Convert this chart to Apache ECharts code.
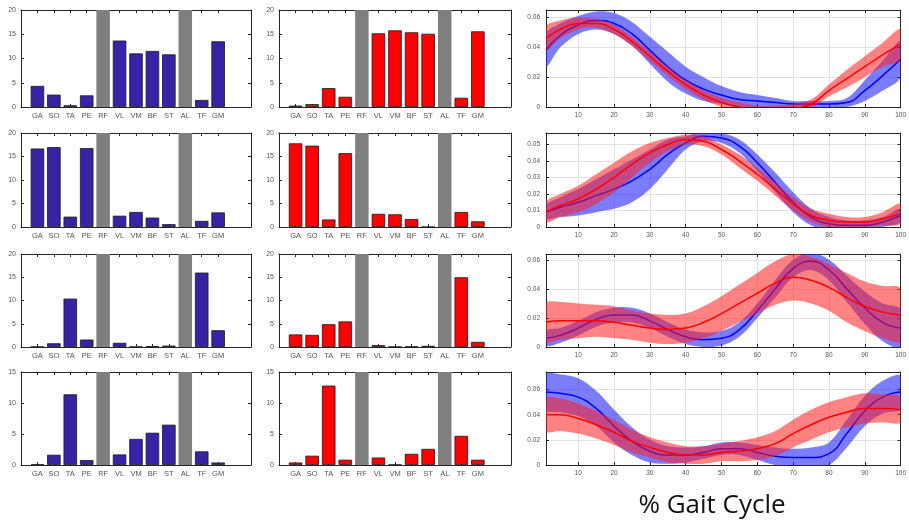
<!DOCTYPE html>
<html><head><meta charset="utf-8">
<script src="https://cdn.jsdelivr.net/npm/echarts@6/dist/echarts.min.js"></script>
<style>html,body{margin:0;padding:0;background:#fff}#c{width:909px;height:521px}</style>
</head><body><div id="c"></div>
<script>
// ---------- DATA ----------
const muscles = ['GA','SO','TA','PE','RF','VL','VM','BF','ST','AL','TF','GM'];
const missingMuscles = ['RF','AL'];

// bar heights (left = blue group, right = red group), one array per row
const blueBars1 = [4.35,2.55,0.35,2.4,null,13.7,11.05,11.55,10.85,null,1.45,13.55];
const redBars1  = [0.28,0.6,3.9,2.1,null,15.2,15.8,15.4,15.1,null,1.9,15.6];
const blueBars2 = [16.7,17.0,2.2,16.8,null,2.4,3.2,2.0,0.6,null,1.3,3.1];
const redBars2  = [17.8,17.3,1.6,15.7,null,2.8,2.7,1.7,0,null,3.2,1.2];
const blueBars3 = [0.05,0.8,10.4,1.6,null,0.9,0.05,0.15,0.3,null,16.0,3.6];
const redBars3  = [2.7,2.6,4.9,5.5,null,0.4,0.05,0.1,0.25,null,15.0,1.1];
const blueBars4 = [0.1,1.65,11.4,0.8,null,1.7,4.2,5.2,6.5,null,2.2,0.4];
const redBars4  = [0.4,1.5,12.8,0.85,null,1.2,0.05,1.8,2.6,null,4.7,0.85];
const barMax = [20,20,20,15];

// % gait cycle sample positions
const gait = [1,5,10,15,20,25,30,35,40,45,50,55,60,65,70,75,80,85,90,95,100];
const gaitTicks = [10,20,30,40,50,60,70,80,90,100];

const blueMean1 = [0.038,0.048,0.055,0.058,0.056,0.049,0.038,0.027,0.018,0.012,0.008,0.005,0.004,0.003,0.002,0.002,0.002,0.003,0.011,0.021,0.032];
const blueSd1   = [0.011,0.008,0.006,0.006,0.007,0.008,0.009,0.010,0.009,0.008,0.006,0.005,0.004,0.003,0.002,0.002,0.002,0.003,0.007,0.010,0.012];
const redMean1  = [0.046,0.052,0.056,0.056,0.052,0.044,0.034,0.024,0.015,0.008,0.003,0.000,-0.002,-0.002,-0.001,0.002,0.011,0.019,0.027,0.035,0.042];
const redSd1    = [0.008,0.006,0.004,0.003,0.003,0.003,0.003,0.003,0.003,0.003,0.003,0.003,0.003,0.003,0.003,0.003,0.004,0.006,0.007,0.008,0.010];

const blueMean2 = [0.009,0.012,0.015,0.019,0.023,0.028,0.035,0.044,0.051,0.055,0.054,0.049,0.039,0.027,0.015,0.006,0.002,0.001,0.001,0.003,0.007];
const blueSd2   = [0.004,0.006,0.008,0.010,0.012,0.013,0.012,0.009,0.004,0.003,0.003,0.004,0.005,0.006,0.006,0.005,0.004,0.003,0.003,0.003,0.004];
const redMean2  = [0.009,0.013,0.017,0.023,0.030,0.038,0.045,0.050,0.053,0.052,0.047,0.040,0.032,0.023,0.014,0.007,0.004,0.003,0.003,0.005,0.008];
const redSd2    = [0.006,0.007,0.008,0.009,0.009,0.008,0.006,0.004,0.003,0.003,0.003,0.004,0.004,0.004,0.004,0.004,0.004,0.003,0.003,0.004,0.006];

const blueMean3 = [0.006,0.008,0.013,0.019,0.022,0.022,0.018,0.012,0.007,0.005,0.006,0.012,0.025,0.040,0.054,0.059,0.053,0.040,0.027,0.017,0.013];
const blueSd3   = [0.005,0.005,0.005,0.005,0.005,0.005,0.005,0.005,0.005,0.005,0.005,0.005,0.005,0.006,0.006,0.006,0.007,0.009,0.011,0.013,0.013];
const redMean3  = [0.017,0.018,0.018,0.018,0.017,0.015,0.013,0.012,0.013,0.017,0.023,0.030,0.037,0.044,0.048,0.046,0.041,0.034,0.028,0.024,0.022];
const redSd3    = [0.013,0.013,0.012,0.011,0.011,0.010,0.010,0.010,0.010,0.011,0.012,0.013,0.014,0.015,0.016,0.016,0.016,0.017,0.017,0.018,0.018];

const blueMean4 = [0.058,0.057,0.054,0.045,0.031,0.019,0.011,0.008,0.008,0.010,0.013,0.013,0.010,0.007,0.006,0.006,0.009,0.025,0.043,0.054,0.058];
const blueSd4   = [0.014,0.015,0.015,0.014,0.013,0.011,0.009,0.007,0.006,0.005,0.005,0.005,0.006,0.007,0.007,0.008,0.009,0.011,0.012,0.013,0.013];
const redMean4  = [0.040,0.040,0.037,0.032,0.026,0.019,0.014,0.010,0.008,0.008,0.010,0.011,0.013,0.017,0.025,0.032,0.038,0.042,0.045,0.045,0.044];
const redSd4    = [0.013,0.013,0.012,0.011,0.010,0.009,0.008,0.008,0.007,0.007,0.007,0.008,0.009,0.010,0.011,0.012,0.012,0.012,0.012,0.011,0.010];

const curveMax  = [0.065,0.057,0.064,0.074];
const curveStep = [0.02,0.01,0.02,0.02];
const xLabel = '% Gait Cycle';

// ---------- LAYOUT / STYLE ----------
const rowTop = [10,133,254,372], rowBot = [107,227,347,465];
const colL = [21,279,546], colR = [251,511,907];
const BLUE = '#3723a5', RED = '#ff0000', GRAY = '#7f7f7f';
const AX = '#262626';

const barSets = [[blueBars1,redBars1],[blueBars2,redBars2],[blueBars3,redBars3],[blueBars4,redBars4]];
const curveSets = [
  [blueMean1,blueSd1,redMean1,redSd1],[blueMean2,blueSd2,redMean2,redSd2],
  [blueMean3,blueSd3,redMean3,redSd3],[blueMean4,blueSd4,redMean4,redSd4]];

const grid = [], xAxis = [], yAxis = [], series = [];
const catIdx = muscles.map((m,i)=>i+1);
const lineC = {show:true, onZero:false, lineStyle:{color:AX, width:1}};
const tickC = {show:true, inside:true, length:3, lineStyle:{color:AX, width:1}};
const lblC = {fontSize:7, color:'#555', fontFamily:'Liberation Sans'};

function addBarPanel(r, c, vals, color) {
  const g = grid.length;
  grid.push({left:colL[c], top:rowTop[r], width:colR[c]-colL[c], height:rowBot[r]-rowTop[r]});
  const xb = {type:'value', gridIndex:g, min:0, max:14, interval:1, splitLine:{show:false},
    axisLine:lineC, axisTick:Object.assign({}, tickC, {customValues:catIdx})};
  xAxis.push(Object.assign({}, xb, {position:'bottom',
    axisLabel:Object.assign({}, lblC, {fontSize:7.5, margin:5, customValues:catIdx,
      formatter:v=>muscles[v-1]||''})}));
  xAxis.push(Object.assign({}, xb, {position:'top', axisLabel:{show:false}}));
  const yb = {type:'value', gridIndex:g, min:0, max:barMax[r], interval:5, splitLine:{show:false},
    axisLine:lineC, axisTick:tickC};
  yAxis.push(Object.assign({}, yb, {position:'left', axisLabel:Object.assign({}, lblC, {margin:5})}));
  yAxis.push(Object.assign({}, yb, {position:'right', axisLabel:{show:false}}));
  const data = muscles.map((m,i)=>{
    if (missingMuscles.includes(m)) return {value:[i+1, barMax[r]], itemStyle:{color:GRAY, borderWidth:0}};
    return {value:[i+1, vals[i]]};
  });
  series.push({type:'bar', xAxisIndex:2*g, yAxisIndex:2*g, data, barWidth:13.5, silent:true,
    itemStyle:{color, borderColor:'#1a1a1a', borderWidth:0.8}});
}

function band(g, mean, sd, fill, z) {
  const lo = mean.map((m,i)=>m-sd[i]), hi = mean.map((m,i)=>m+sd[i]);
  const data = gait.map((x,i)=>[x, lo[i], hi[i]]);
  return {type:'custom', xAxisIndex:2*g, yAxisIndex:2*g, data, z, silent:true,
    encode:{x:0, y:[1,2]},
    renderItem(params, api) {
      if (params.dataIndex !== 0) return null;
      const up = data.map(d=>api.coord([d[0], d[2]]));
      const dn = data.map(d=>api.coord([d[0], d[1]])).reverse();
      const cs = params.coordSys;
      return {type:'group', children:[
        {type:'polygon', shape:{points:up.concat(dn), smooth:0.35}, style:{fill, stroke:null},
         clipPath:{type:'rect', shape:{x:cs.x, y:cs.y, width:cs.width, height:cs.height}}}]};
    }};
}

function addCurvePanel(r) {
  const g = grid.length;
  grid.push({left:colL[2], top:rowTop[r], width:colR[2]-colL[2], height:rowBot[r]-rowTop[r]});
  const xb = {type:'value', gridIndex:g, min:1, max:100, axisLine:lineC,
    axisTick:Object.assign({}, tickC, {customValues:gaitTicks}),
    splitLine:{show:true, lineStyle:{color:'#e2e2e2', width:1}}};
  xAxis.push(Object.assign({}, xb, {position:'bottom',
    axisLabel:Object.assign({}, lblC, {fontSize:6.5, margin:5, customValues:gaitTicks})}));
  xAxis.push(Object.assign({}, xb, {position:'top', axisLabel:{show:false}, splitLine:{show:false}}));
  const yb = {type:'value', gridIndex:g, min:0, max:curveMax[r], interval:curveStep[r], axisLine:lineC, axisTick:tickC};
  yAxis.push(Object.assign({}, yb, {position:'left',
    splitLine:{show:true, lineStyle:{color:'#e2e2e2', width:1}},
    axisLabel:Object.assign({}, lblC, {fontSize:6.5, margin:6, showMaxLabel:false})}));
  yAxis.push(Object.assign({}, yb, {position:'right', axisLabel:{show:false}, splitLine:{show:false}}));
  const [bm, bs, rm, rs] = curveSets[r];
  series.push(band(g, bm, bs, 'rgba(30,30,255,0.58)', 3));
  series.push({type:'line', xAxisIndex:2*g, yAxisIndex:2*g, data:gait.map((x,i)=>[x,bm[i]]), z:4,
    smooth:true, symbol:'none', silent:true, lineStyle:{color:'#0000ff', width:1.5}});
  series.push(band(g, rm, rs, 'rgba(255,30,30,0.55)', 5));
  series.push({type:'line', xAxisIndex:2*g, yAxisIndex:2*g, data:gait.map((x,i)=>[x,rm[i]]), z:6,
    smooth:true, symbol:'none', silent:true, lineStyle:{color:'#ff0000', width:1.5}});
}

for (let r=0; r<4; r++) {
  addBarPanel(r, 0, barSets[r][0], BLUE);
  addBarPanel(r, 1, barSets[r][1], RED);
  addCurvePanel(r);
}

const chart = echarts.init(document.getElementById('c'), null, {renderer:'canvas'});
chart.setOption({
  animation:false, backgroundColor:'#fff',
  grid, xAxis, yAxis, series,
  graphic:[{type:'text', x:712, y:506, style:{text:xLabel, align:'center', verticalAlign:'middle',
    font:'26px "Open Sans", "Noto Sans", sans-serif', fill:'#111'}}]
});
</script></body></html>
